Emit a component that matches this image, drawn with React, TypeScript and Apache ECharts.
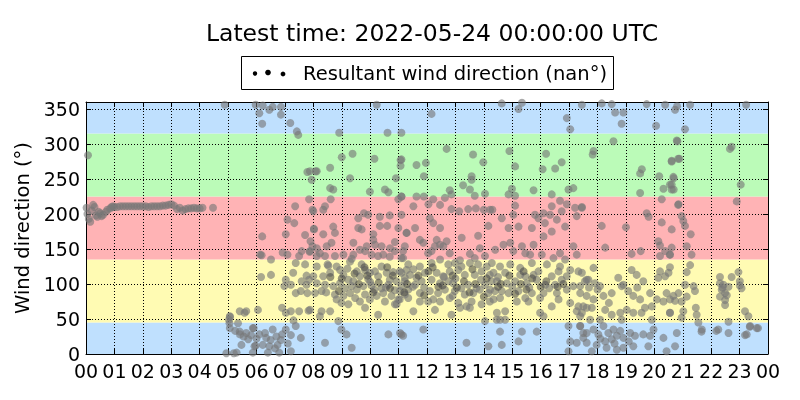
import React, { useEffect, useRef } from "react";
import * as echarts from "echarts";

// [hour of day, wind direction in degrees]
const night: number[][] = [
  [0.02, 209], [0.07, 284], [0.05, 200], [0.1, 193], [0.15, 189], [0.2, 205], [0.25, 213], [0.3, 210],
  [0.35, 198], [0.4, 196], [0.45, 203], [0.5, 201], [0.55, 197], [0.6, 199], [0.7, 203], [0.75, 206],
  [0.85, 208], [0.9, 210], [0.95, 211], [1.0, 210], [1.1, 210], [1.2, 211], [1.3, 211], [1.4, 211],
  [1.5, 211], [1.6, 211], [1.7, 211], [1.8, 211], [1.9, 211], [2.0, 211], [2.1, 211], [2.2, 210],
  [2.3, 211], [2.4, 211], [2.5, 211], [2.6, 211], [2.7, 212], [2.8, 212], [2.9, 213], [3.0, 214],
  [3.1, 212], [3.2, 207], [3.3, 209], [3.4, 205], [3.5, 207], [3.6, 208], [3.7, 208], [3.8, 209],
  [3.9, 208], [4.0, 208], [4.1, 209], [4.47, 209],
];

const morning: number[][] = [
  [4.88, 356], [5.97, 356], [6.22, 355], [6.45, 349], [6.57, 353], [6.86, 353], [6.86, 342], [6.1, 344],
  [6.2, 329], [7.19, 330], [7.42, 318], [7.47, 313], [7.79, 260], [8.08, 261], [7.94, 249], [7.85, 221],
  [7.36, 211], [7.97, 206], [7.09, 192], [7.33, 187], [8.02, 178], [7.71, 170], [7.03, 171], [6.2, 168],
  [7.9, 161], [7.97, 154], [6.13, 142], [6.18, 141], [6.51, 135], [6.92, 145], [7.09, 142], [7.5, 140],
  [7.59, 147], [7.87, 146], [7.38, 130], [7.71, 128], [7.29, 116], [7.76, 112], [7.85, 106], [7.59, 104],
  [7.76, 99], [7.03, 106], [7.21, 99], [6.98, 97], [6.51, 113], [6.16, 110], [7.56, 90], [7.38, 87],
  [7.79, 87], [7.5, 61], [7.83, 62], [7.21, 61], [7.03, 59], [6.9, 66], [6.05, 63], [5.41, 61],
  [5.58, 59], [5.64, 61], [5.06, 54], [5.03, 49], [5.06, 37], [5.35, 44], [5.41, 32], [5.64, 30],
  [5.81, 27], [5.87, 37], [5.47, 13], [5.93, 11], [6.22, 13], [6.34, 23], [6.57, 35], [6.74, 13],
  [6.86, 20], [6.45, 11], [7.03, 35], [7.21, 27], [7.38, 40], [7.56, 23], [7.21, 4], [6.8, 2],
  [6.4, 2], [5.87, 2], [5.3, 2], [4.94, 1], [5.07, 53], [5.05, 44], [5.25, 33], [5.42, 28],
  [5.71, 21], [5.9, 37], [5.97, 12], [5.2, 1], [6.1, 28], [6.3, 30], [6.5, 20], [6.65, 8],
  [6.9, 28], [7.1, 15], [6.0, 22], [5.55, 25], [6.7, 25], [7.3, 48],
];

const midMorning: number[][] = [
  [10.23, 356], [8.91, 316], [10.61, 316], [9.38, 286], [9.0, 281], [10.15, 279], [11.07, 277], [11.07, 269],
  [8.59, 266], [8.12, 261], [7.88, 261], [9.29, 251], [10.91, 251], [9.99, 232], [10.52, 235], [10.64, 231],
  [8.59, 237], [8.7, 235], [8.61, 221], [11.1, 225], [10.99, 221], [8.41, 211], [8.35, 206], [8.0, 204],
  [9.78, 201], [9.93, 199], [9.58, 194], [10.34, 196], [10.69, 198], [10.99, 180], [10.6, 183], [10.34, 183],
  [9.58, 180], [9.7, 178], [8.7, 182], [8.76, 173], [8.02, 179], [8.35, 171], [10.11, 171], [10.11, 163],
  [11.28, 173], [9.41, 159], [10.17, 156], [10.4, 154], [10.87, 160], [10.7, 151], [8.64, 159], [8.47, 154],
  [8.12, 151], [7.88, 147], [8.23, 144], [8.12, 140], [8.41, 140], [8.76, 140], [9.06, 142], [9.41, 142],
  [9.35, 136], [9.64, 149], [9.82, 147], [10.05, 142], [10.28, 140], [10.46, 142], [10.69, 139], [11.1, 137],
  [10.87, 147], [11.16, 147], [9.88, 154], [8.12, 125], [8.53, 126], [8.82, 125], [8.94, 120], [9.29, 132],
  [9.53, 118], [9.82, 120], [9.99, 116], [10.17, 118], [10.4, 125], [10.58, 116], [10.81, 117], [11.04, 118],
  [11.28, 120], [8.0, 111], [8.35, 111], [8.59, 116], [9.06, 113], [9.23, 106], [9.41, 104], [9.64, 111],
  [9.93, 107], [10.28, 111], [10.69, 106], [10.93, 104], [11.22, 109], [8.12, 101], [8.41, 99], [8.7, 97],
  [8.94, 101], [9.11, 94], [9.53, 92], [9.76, 97], [10.05, 98], [10.4, 94], [10.64, 99], [10.87, 91],
  [11.1, 97], [8.06, 87], [8.29, 90], [8.76, 85], [9.06, 83], [9.29, 87], [9.47, 80], [9.82, 85],
  [10.23, 83], [10.46, 87], [10.75, 83], [10.99, 78], [11.22, 85], [8.82, 78], [8.99, 73], [9.23, 71],
  [9.64, 75], [9.99, 78], [10.52, 75], [10.93, 71], [11.04, 78], [7.88, 63], [8.29, 61], [8.59, 61],
  [9.82, 66], [10.28, 56], [10.87, 71], [8.23, 54], [8.88, 47], [8.99, 35], [9.17, 28], [8.41, 16],
  [9.35, 9], [10.64, 28], [11.05, 30], [11.16, 26], [8.5, 128], [9.2, 122], [9.7, 128], [10.0, 103],
  [10.55, 95], [9.35, 97], [8.45, 88], [10.15, 92],
];

const midday: number[][] = [
  [12.16, 343], [11.1, 316], [12.69, 293], [13.62, 285], [11.1, 278], [11.63, 270], [11.96, 273], [13.98, 274],
  [11.89, 254], [13.57, 254], [13.57, 249], [13.27, 241], [13.51, 235], [12.8, 234], [12.86, 228], [13.68, 226],
  [14.04, 229], [11.1, 225], [11.63, 225], [11.89, 225], [12.22, 221], [12.63, 223], [11.52, 211], [12.05, 214],
  [12.46, 213], [12.86, 207], [13.13, 204], [13.45, 207], [13.72, 208], [14.0, 206], [14.3, 206], [11.1, 199],
  [12.1, 194], [12.22, 187], [12.46, 180], [11.58, 180], [11.28, 173], [11.75, 163], [11.87, 159], [12.34, 163],
  [12.46, 156], [12.69, 161], [13.22, 166], [13.8, 169], [14.16, 183], [12.28, 154], [12.57, 154], [12.04, 144],
  [12.16, 147], [12.8, 144], [13.51, 143], [13.86, 151], [14.04, 140], [13.68, 137], [11.22, 154], [11.16, 137],
  [13.16, 134], [11.34, 128], [11.52, 121], [11.75, 125], [12.16, 130], [12.46, 135], [12.75, 128], [12.98, 130],
  [13.21, 125], [13.51, 130], [13.8, 128], [14.1, 125], [11.1, 116], [11.4, 113], [11.63, 109], [11.93, 116],
  [12.34, 116], [12.57, 111], [12.8, 118], [13.1, 120], [13.33, 113], [13.68, 113], [13.92, 118], [14.21, 113],
  [11.22, 104], [11.58, 99], [11.81, 104], [12.16, 106], [12.46, 101], [12.75, 104], [12.92, 101], [13.21, 94],
  [13.45, 99], [13.74, 94], [14.04, 99], [14.27, 104], [11.05, 90], [11.34, 92], [11.75, 87], [12.1, 90],
  [12.39, 87], [12.63, 92], [12.98, 90], [13.33, 85], [13.63, 87], [13.86, 92], [14.16, 87], [14.39, 90],
  [11.34, 80], [11.75, 75], [12.04, 75], [12.22, 78], [12.46, 75], [12.8, 80], [13.1, 73], [13.16, 66],
  [13.39, 68], [13.57, 75], [13.92, 71], [14.21, 75], [11.52, 61], [12.28, 63], [12.86, 56], [13.51, 66],
  [14.45, 49], [14.04, 47], [11.1, 28], [11.87, 35], [13.39, 16], [14.16, 11], [11.5, 96], [12.6, 110],
  [13.0, 108], [13.9, 106], [11.9, 95], [12.9, 83],
];

const afternoon: number[][] = [
  [14.63, 358], [15.22, 350], [15.34, 359], [16.92, 337], [17.04, 321], [14.9, 290], [16.19, 286], [16.74, 274],
  [15.1, 268], [16.07, 264], [16.51, 265], [14.99, 236], [15.75, 234], [16.98, 235], [17.15, 237], [14.87, 228],
  [15.1, 226], [16.39, 228], [14.22, 206], [15.1, 212], [16.39, 211], [16.68, 219], [16.92, 214], [17.21, 209],
  [17.45, 209], [15.04, 199], [14.63, 194], [15.8, 199], [16.1, 201], [15.92, 194], [16.15, 187], [16.33, 199],
  [16.74, 204], [16.57, 192], [17.27, 197], [14.87, 180], [15.22, 182], [15.69, 180], [16.39, 175], [16.86, 182],
  [16.1, 168], [15.75, 156], [15.34, 154], [14.93, 159], [14.69, 156], [14.4, 149], [15.04, 147], [15.46, 144],
  [15.63, 142], [16.04, 142], [17.15, 154], [17.27, 142], [16.68, 144], [16.86, 135], [16.45, 137], [14.28, 130],
  [14.57, 125], [14.93, 128], [15.28, 123], [15.69, 130], [15.92, 118], [16.22, 128], [16.68, 125], [17.04, 120],
  [17.33, 118], [17.62, 106], [14.34, 116], [14.75, 116], [15.28, 113], [15.46, 111], [15.75, 113], [16.39, 111],
  [16.63, 118], [16.92, 111], [16.74, 106], [14.46, 104], [14.81, 101], [15.1, 104], [15.51, 101], [15.86, 106],
  [16.16, 99], [16.51, 99], [17.15, 97], [17.39, 97], [14.22, 92], [14.63, 90], [14.87, 87], [15.22, 90],
  [15.69, 87], [16.1, 87], [16.57, 87], [16.92, 92], [14.34, 78], [14.57, 80], [15.16, 75], [15.46, 80],
  [15.57, 75], [15.98, 80], [16.39, 68], [16.63, 78], [17.04, 73], [17.33, 68], [17.45, 59], [17.62, 66],
  [14.75, 61], [14.46, 59], [15.98, 59], [16.1, 54], [17.27, 61], [14.57, 49], [14.75, 49], [14.57, 32],
  [15.34, 32], [15.86, 32], [16.98, 40], [17.39, 40], [17.5, 30], [15.22, 18], [14.63, 13], [17.04, 18],
  [17.27, 16], [16.98, 4], [15.0, 96], [15.6, 95], [16.3, 94], [14.5, 110],
];

const evening: number[][] = [
  [17.45, 356], [18.15, 358], [18.5, 357], [18.62, 345], [18.91, 345], [18.85, 329], [19.73, 357], [20.06, 326],
  [20.38, 356], [20.8, 354], [18.56, 304], [17.86, 290], [17.83, 285], [19.56, 264], [19.5, 258], [19.5, 230],
  [20.17, 254], [20.32, 236], [20.55, 242], [20.61, 235], [20.67, 253], [20.61, 275], [20.84, 279], [20.79, 305],
  [20.26, 221], [20.84, 213], [17.45, 210], [19.73, 201], [19.8, 196], [20.26, 188], [20.61, 178], [18.15, 183],
  [19.0, 181], [20.14, 161], [20.2, 155], [18.27, 152], [19.2, 143], [19.52, 147], [20.2, 140], [20.55, 142],
  [20.38, 147], [17.86, 123], [17.45, 116], [17.56, 104], [17.68, 106], [17.91, 101], [18.09, 97], [18.73, 109],
  [18.91, 99], [19.2, 120], [19.38, 113], [19.61, 104], [19.85, 87], [20.14, 109], [20.2, 118], [20.38, 111],
  [20.5, 116], [20.43, 87], [20.55, 78], [20.67, 83], [20.85, 87], [17.39, 87], [17.62, 83], [17.86, 78],
  [18.21, 83], [18.5, 87], [18.85, 97], [19.08, 90], [19.26, 83], [19.5, 78], [19.67, 66], [19.91, 68],
  [20.09, 78], [20.32, 75], [20.55, 59], [17.5, 68], [17.8, 66], [18.27, 63], [18.5, 56], [18.8, 59],
  [19.03, 63], [19.26, 59], [19.55, 59], [19.91, 49], [17.39, 54], [17.74, 49], [18.09, 49], [18.85, 49],
  [17.39, 40], [17.62, 30], [17.86, 35], [18.03, 28], [18.21, 40], [18.38, 30], [18.56, 35], [18.68, 26],
  [18.8, 33], [18.5, 21], [18.27, 18], [17.97, 13], [17.62, 16], [17.5, 23], [18.91, 23], [19.15, 30],
  [19.32, 26], [19.61, 28], [19.85, 26], [19.97, 35], [19.79, 11], [19.26, 11], [18.91, 9], [18.68, 6],
  [18.32, 9], [17.8, 4], [20.43, 4], [20.32, 23], [18.0, 92], [18.4, 73], [19.4, 95], [18.1, 22],
  [18.6, 15], [19.1, 18], [17.7, 95],
];

const night2: number[][] = [
  [20.73, 349], [21.26, 356], [23.23, 356], [21.08, 321], [20.81, 304], [22.66, 293], [22.72, 296], [20.61, 276],
  [20.88, 279], [20.68, 251], [20.61, 242], [20.68, 235], [23.04, 242], [22.9, 218], [20.85, 214], [20.96, 197],
  [21.08, 183], [21.02, 190], [21.28, 171], [21.14, 154], [21.31, 142], [20.61, 152], [20.55, 142], [21.26, 127],
  [21.14, 117], [20.55, 124], [21.08, 99], [21.38, 97], [21.43, 90], [21.14, 82], [20.73, 76], [20.96, 75],
  [20.55, 59], [21.02, 61], [20.96, 52], [21.46, 66], [21.49, 56], [21.55, 45], [21.67, 35], [22.31, 110],
  [22.31, 101], [22.43, 99], [22.61, 96], [22.37, 92], [22.49, 87], [22.31, 82], [22.49, 77], [22.49, 70],
  [22.72, 110], [22.96, 117], [23.01, 104], [23.01, 98], [23.07, 94], [22.61, 46], [23.19, 61], [23.31, 54],
  [23.37, 40], [23.6, 37], [23.25, 28], [22.25, 35], [22.61, 30], [20.79, 30], [20.73, 11], [21.66, 32],
  [22.18, 33], [23.36, 39], [23.65, 37], [23.19, 27], [22.4, 95], [22.55, 84],
];

// darker, overlapping points of the dense core (08-17 h, 80-130°)
const core: number[][] = [
  [8.6, 110], [9.0, 108], [9.45, 115], [9.9, 112], [10.3, 102], [10.8, 112], [11.3, 100], [11.7, 112],
  [12.05, 118], [12.4, 96], [12.9, 112], [13.3, 104], [13.7, 100], [14.1, 108], [14.5, 96], [14.9, 112],
  [15.3, 100], [15.7, 108], [16.2, 104], [16.6, 96], [8.9, 90], [9.6, 100], [10.1, 88], [10.7, 94],
  [11.2, 88], [11.9, 84], [12.55, 98], [13.05, 95], [13.5, 88], [14.0, 82], [14.6, 100], [15.1, 86],
  [15.5, 92], [16.0, 96], [16.8, 100], [12.2, 124], [13.6, 121], [10.6, 124], [15.4, 118], [9.8, 124],
];

const bandEdges = [0, 45, 135, 225, 315, 360];
const bandColors = ["#bfe0fe", "#fffbb3", "#ffb3b5", "#bbfbb8", "#bfe0fe"];

const TITLE = "Latest time: 2022-05-24 00:00:00 UTC";
const LEGEND = "Resultant wind direction (nan°)";
const FONT = "DejaVu Sans";

export default function App() {
  const ref = useRef<HTMLDivElement>(null);
  useEffect(() => {
    if (!ref.current) return;
    const chart = echarts.init(ref.current, undefined, { renderer: "svg" });
    const points = [...night, ...morning, ...midMorning, ...midday, ...afternoon, ...evening, ...night2];
    const axisLine = { show: true, onZero: false, lineStyle: { color: "#000", width: 1 } };
    const tick = { show: true, inside: true, length: 5, lineStyle: { color: "#000" } };
    const split = { show: true, lineStyle: { color: "#000", type: [1, 2], width: 1 } };
    chart.setOption({
      animation: false,
      textStyle: { fontFamily: FONT },
      title: {
        text: TITLE,
        left: 427,
        textAlign: "center",
        top: 16,
        textStyle: { fontFamily: FONT, fontSize: 23.5, fontWeight: "normal", color: "#000" },
      },
      grid: { left: 86, right: 32, top: 102, bottom: 46 },
      xAxis: [
        {
          type: "value", min: 0, max: 24, interval: 1, position: "bottom", z: 2,
          axisLine, axisTick: tick, splitLine: split,
          axisLabel: {
            color: "#000", fontSize: 19, fontFamily: FONT, margin: 7,
            formatter: (v: number) => String(v % 24).padStart(2, "0"),
          },
        },
        {
          type: "value", min: 0, max: 24, interval: 1, position: "top", z: 2,
          axisLine, axisTick: tick, splitLine: { show: false }, axisLabel: { show: false },
        },
      ],
      yAxis: [
        {
          type: "value", min: 0, max: 360, interval: 50, position: "left", z: 2,
          axisLine, axisTick: tick, splitLine: split,
          name: "Wind direction (°)", nameLocation: "middle", nameGap: 47,
          nameTextStyle: { color: "#000", fontSize: 19.5, fontFamily: FONT },
          axisLabel: {
            color: "#000", fontSize: 19, fontFamily: FONT, margin: 6,
            formatter: (v: number) => (v === 360 ? "" : String(v)),
          },
        },
        {
          type: "value", min: 0, max: 360, interval: 50, position: "right", z: 2,
          axisLine, axisTick: tick, splitLine: { show: false }, axisLabel: { show: false },
        },
      ],
      series: [
        {
          type: "line",
          data: [],
          z: 1,
          silent: true,
          markArea: {
            silent: true,
            data: bandColors.map((c, i) => [
              { yAxis: bandEdges[i], itemStyle: { color: c, opacity: 1 } },
              { yAxis: bandEdges[i + 1] },
            ]),
          },
        },
        {
          type: "scatter",
          name: LEGEND,
          z: 3,
          symbol: "circle",
          symbolSize: 8,
          itemStyle: { color: "rgba(118,118,118,0.78)" },
          data: points,
        },
        {
          type: "scatter",
          name: LEGEND,
          z: 4,
          symbol: "circle",
          symbolSize: 8,
          itemStyle: { color: "rgba(70,70,70,0.7)" },
          data: core,
        },
      ],
      graphic: [
        {
          type: "group",
          children: [
            {
              type: "rect",
              shape: { x: 241.5, y: 56.5, width: 372, height: 33 },
              style: { fill: "#fff", stroke: "#000", lineWidth: 1 },
            },
            { type: "circle", shape: { cx: 255, cy: 73.5, r: 2.2 }, style: { fill: "#000" } },
            { type: "circle", shape: { cx: 268, cy: 72.5, r: 2.8 }, style: { fill: "#000" } },
            { type: "circle", shape: { cx: 283, cy: 74, r: 2.4 }, style: { fill: "#000" } },
            {
              type: "text",
              x: 303,
              y: 73,
              style: {
                text: LEGEND,
                fontSize: 19.5,
                fontFamily: FONT,
                fill: "#000",
                verticalAlign: "middle",
                align: "left",
              },
            },
          ],
        },
      ],
    });
    return () => chart.dispose();
  }, []);
  return (
    <div
      ref={ref}
      style={{ position: "fixed", left: 0, top: 0, width: 800, height: 400 }}
    />
  );
}
